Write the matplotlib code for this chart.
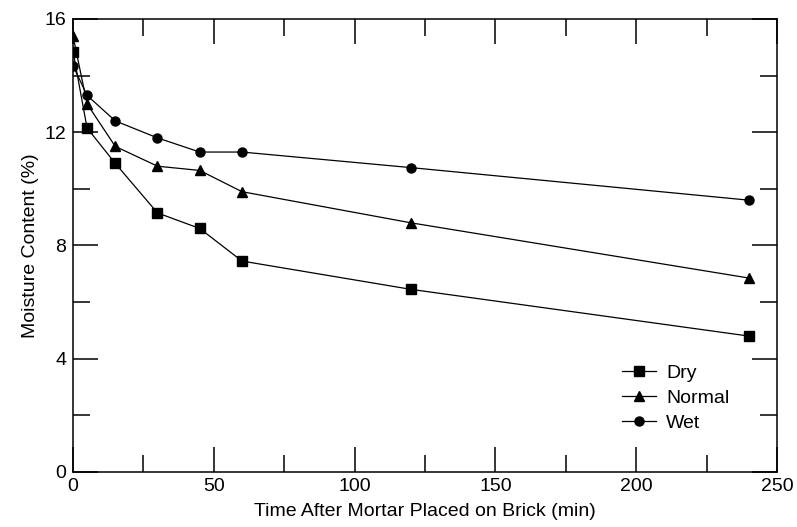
import matplotlib
matplotlib.use('Agg')
import matplotlib.pyplot as plt
from matplotlib.ticker import MultipleLocator

# moisture content of mortar vs time on the brick, for three brick conditions
time_min = [0, 5, 15, 30, 45, 60, 120, 240]
dry = [14.85, 12.15, 10.9, 9.15, 8.6, 7.45, 6.45, 4.8]
normal = [15.4, 13.0, 11.5, 10.8, 10.65, 9.9, 8.8, 6.85]
wet = [14.35, 13.3, 12.4, 11.8, 11.3, 11.3, 10.75, 9.6]

plt.rcParams['font.family'] = ['Liberation Sans', 'DejaVu Sans']
plt.rcParams['font.size'] = 14

fig = plt.figure(figsize=(7.97, 5.27), dpi=100)
ax = fig.add_axes([0.0916, 0.1044, 0.8834, 0.8596])

ax.plot(time_min, dry, color='black', lw=0.9, marker='s', ms=6.5, label='Dry')
ax.plot(time_min, normal, color='black', lw=0.9, marker='^', ms=7.5, label='Normal')
ax.plot(time_min, wet, color='black', lw=0.9, marker='o', ms=6.5, label='Wet')

ax.set_xlim(0, 250)
ax.set_ylim(0, 16)
ax.xaxis.set_major_locator(MultipleLocator(50))
ax.xaxis.set_minor_locator(MultipleLocator(25))
ax.yaxis.set_major_locator(MultipleLocator(4))
ax.yaxis.set_minor_locator(MultipleLocator(2))
ax.tick_params(which='both', direction='in', top=True, right=True, width=1.1, labelsize=14)
ax.tick_params(which='major', length=18)
ax.tick_params(which='minor', length=12.5)
ax.tick_params(axis='y', pad=5)
ax.tick_params(axis='x', pad=4)
for s in ax.spines.values():
    s.set_linewidth(1.1)

ax.set_xlabel('Time After Mortar Placed on Brick (min)', fontsize=14, labelpad=6)
ax.set_ylabel('Moisture Content (%)', fontsize=14, labelpad=4)

ax.legend(loc='lower right', bbox_to_anchor=(0.957, 0.05), frameon=False, fontsize=14,
          handlelength=1.75, handletextpad=0.5, labelspacing=0.37)

fig.savefig('out.png', dpi=100)
